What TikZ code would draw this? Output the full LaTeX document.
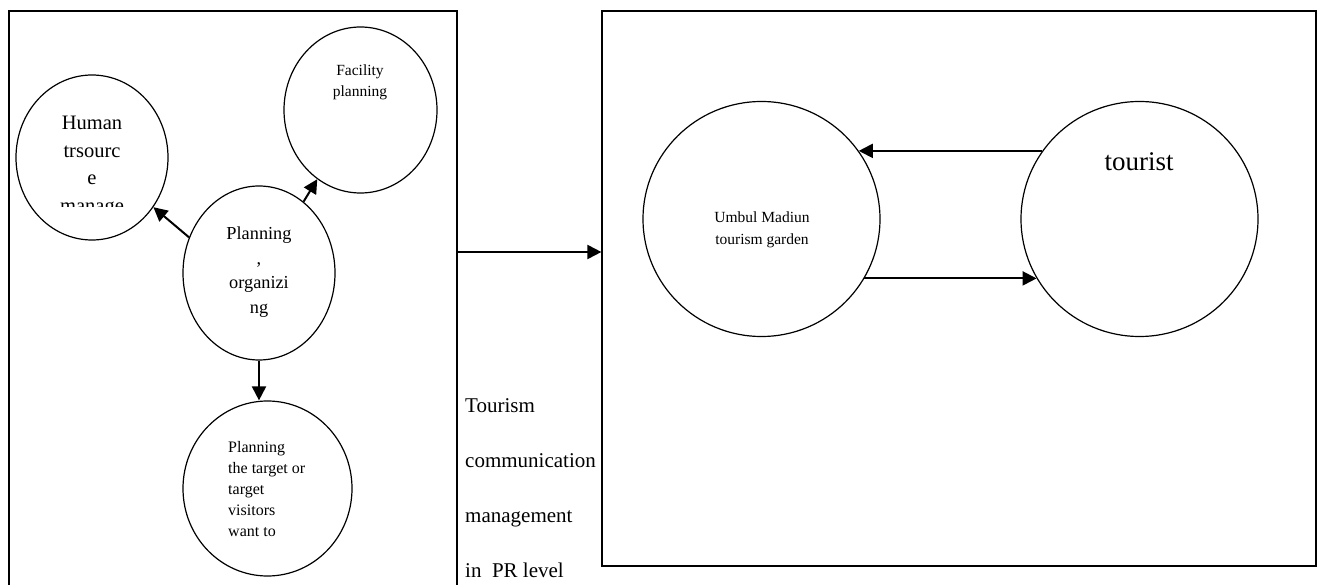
\documentclass[tikz,border=0pt]{standalone}
\usepackage{fontspec}
\setmainfont{Liberation Serif}
\usetikzlibrary{shapes.geometric,arrows.meta}
% stacked lines: size, line pitch, column alignment, lines
\newcommand\txtblock[4]{\fontsize{#1}{#2}\selectfont\begin{tabular}[t]{@{}#3@{}}#4\end{tabular}}
\begin{document}
\begin{tikzpicture}[x=1pt,y=-1pt,
  bubble/.style={ellipse, draw, line width=1.2pt, inner sep=0pt},
  frame/.style={rectangle, draw, line width=1.2pt, inner sep=0pt},
  arr/.style={line width=2pt, -{Triangle[length=14pt,width=14pt]}},
  lbl/.style={inner sep=0pt, anchor=base}]
\useasboundingbox (0,0) rectangle (1317,585);
\clip (0,0) rectangle (1317,585);

% outer frames
\node[frame, minimum width=448pt, minimum height=590pt] (lbox) at (233,306) {};
\node[frame, minimum width=714pt, minimum height=555pt] (rbox) at (959,288.5) {};

% planning bubbles
\node[bubble, minimum width=152pt, minimum height=165pt] (hr)  at (92,157.5) {};
\node[bubble, minimum width=153pt, minimum height=166pt] (fac) at (360.5,110) {};
\node[bubble, minimum width=152pt, minimum height=174pt] (org) at (259,273) {};
\node[bubble, minimum width=169pt, minimum height=175pt] (tgt) at (267.5,488.5) {};

% garden and tourist
\node[bubble, minimum width=237pt, minimum height=235pt] (umb)  at (761.5,219) {};
\node[bubble, minimum width=237pt, minimum height=235pt] (tour) at (1139.5,219) {};

% texts
\begin{scope}
  \clip (20,100) rectangle (165,206.5);
  \node[lbl] (hrt) at (92,130) {\txtblock{20.5}{27.5}{c}{Human\\trsourc\\e\\manage}};
\end{scope}
\node[lbl] (fact) at (360,76) {\txtblock{15.5}{21}{c}{Facility\\planning}};
\node[lbl] (orgt) at (259,240) {\txtblock{18.3}{24.5}{c}{Planning\\,\\organizi\\ng}};
\node[lbl, anchor=base west] (tgtt) at (228,452) {\txtblock{16}{21.2}{l}{Planning\\the target or\\target\\visitors\\want to}};
\node[lbl, anchor=base west] (midt) at (465,412) {\txtblock{21}{55}{l}{Tourism\\communication\\management\\in~~PR level}};
\node[lbl] (umbt) at (762,223) {\txtblock{15.5}{22}{c}{Umbul Madiun\\tourism garden}};
\node[lbl] (tourt) at (1139,170.5) {\fontsize{27}{30}\selectfont tourist};

% connectors
\coordinate (midy) at (530,252);
\draw[arr] (org.153.8) -- (hr.-39.5);
\draw[arr] (org.58.9) -- (fac.238.4);
\draw[arr] (org.south) -- (tgt.north -| org.south);
\draw[arr] (lbox.east |- midy) -- (rbox.west |- midy);
\draw[arr] (tour.145) -- (umb.35);
\draw[arr] (umb.-30) -- (tour.210);
\end{tikzpicture}
\end{document}
